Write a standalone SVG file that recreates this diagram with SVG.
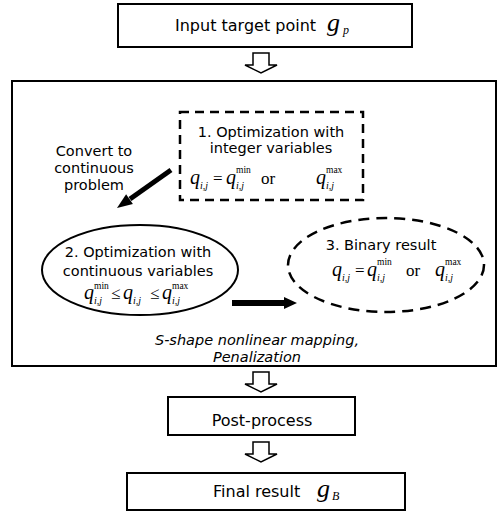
<svg xmlns="http://www.w3.org/2000/svg" width="499" height="520" viewBox="0 0 499 520">
<style>
.box{fill:#fff;stroke:#000;stroke-width:2}
.dash{fill:none;stroke:#000;stroke-width:2.5;stroke-dasharray:9,6}
.t{font-family:"DejaVu Sans",Verdana,sans-serif;font-size:16px;fill:#000}
.s{font-family:"DejaVu Sans",Verdana,sans-serif;font-size:14.5px;fill:#000;text-anchor:middle}
.it{font-family:"DejaVu Sans",Verdana,sans-serif;font-size:14.5px;font-style:italic;fill:#000;text-anchor:middle}
.q{font-family:"Liberation Serif","Times New Roman",serif;font-style:italic;font-size:20px;fill:#000}
.g{font-family:"Liberation Serif","Times New Roman",serif;font-style:italic;font-size:26px;fill:#000}
.sub{font-family:"Liberation Serif","Times New Roman",serif;font-style:italic;font-size:10px;fill:#000}
.sup{font-family:"Liberation Serif","Times New Roman",serif;font-size:9.5px;fill:#000}
.op{font-family:"Liberation Serif","Times New Roman",serif;font-size:17px;fill:#000}
.hollow{fill:#fff;stroke:#000;stroke-width:1.5}
</style>
<defs>
<path id="harrow" d="M-8,0 H8 V12 H16 L0,20 L-16,12 H-8 Z"/>
</defs>

<g id="input">
<rect class="box" x="118" y="4" width="294" height="43"/>
<text class="t" x="175" y="31">Input target point</text>
<text class="g" x="327" y="31">g</text>
<text class="sub" x="343" y="34" style="font-size:12px">p</text>
</g>

<g id="optimization-stage">
<rect class="box" x="12" y="81" width="484" height="285"/>
<text class="it" x="257" y="345">S-shape nonlinear mapping,</text>
<text class="it" x="257" y="362">Penalization</text>
</g>

<g id="step1">
<rect class="dash" x="180" y="112" width="183" height="88"/>
<text class="s" x="271" y="137">1. Optimization with</text>
<text class="s" x="271" y="153">integer variables</text>
<text class="q" x="190" y="184">q</text>
<text class="sub" x="200" y="189">i,j</text>
<text class="op" x="213" y="184">=</text>
<text class="q" x="226" y="184">q</text>
<text class="sup" x="236" y="173">min</text>
<text class="sub" x="236" y="189">i,j</text>
<text class="op" x="261" y="184">or</text>
<text class="q" x="316" y="184">q</text>
<text class="sup" x="326" y="173">max</text>
<text class="sub" x="326" y="189">i,j</text>
</g>

<g id="convert-label">
<text class="s" x="94" y="156">Convert to</text>
<text class="s" x="94" y="173">continuous</text>
<text class="s" x="94" y="190">problem</text>
</g>

<g id="step2">
<ellipse cx="140" cy="270" rx="98" ry="45" fill="none" stroke="#000" stroke-width="2"/>
<text class="s" x="138" y="257">2. Optimization with</text>
<text class="s" x="138" y="276">continuous variables</text>
<text class="q" x="84" y="299">q</text>
<text class="sup" x="94" y="289">min</text>
<text class="sub" x="94" y="304">i,j</text>
<text class="op" x="111" y="299">≤</text>
<text class="q" x="123" y="299">q</text>
<text class="sub" x="133" y="304">i,j</text>
<text class="op" x="150" y="299">≤</text>
<text class="q" x="162" y="299">q</text>
<text class="sup" x="172" y="289">max</text>
<text class="sub" x="172" y="304">i,j</text>
</g>

<g id="step3">
<ellipse class="dash" cx="386" cy="265" rx="98" ry="47" style="stroke-dasharray:11,7"/>
<text class="s" x="381" y="250">3. Binary result</text>
<text class="q" x="332" y="276">q</text>
<text class="sub" x="342" y="281">i,j</text>
<text class="op" x="355" y="276">=</text>
<text class="q" x="367" y="276">q</text>
<text class="sup" x="377" y="265">min</text>
<text class="sub" x="377" y="281">i,j</text>
<text class="op" x="406" y="276">or</text>
<text class="q" x="435" y="276">q</text>
<text class="sup" x="445" y="265">max</text>
<text class="sub" x="445" y="281">i,j</text>
</g>

<g id="postprocess">
<rect class="box" x="168" y="397" width="187" height="38"/>
<text class="t" x="262" y="426" text-anchor="middle">Post-process</text>
</g>

<g id="final">
<rect class="box" x="127" y="473" width="278" height="37"/>
<text class="t" x="213" y="497">Final result</text>
<text class="g" x="317" y="497">g</text>
<text class="sub" x="332" y="500" style="font-size:12px">B</text>
</g>

<g id="connectors">
<use href="#harrow" class="hollow" transform="translate(261,53)"/>
<use href="#harrow" class="hollow" transform="translate(261,372)"/>
<use href="#harrow" class="hollow" transform="translate(261,442)"/>
<line x1="171" y1="170" x2="130" y2="199" stroke="#000" stroke-width="5"/>
<polygon points="117,208 126.1,194.2 132.9,204" fill="#000"/>
<polygon points="232,300 284,300 284,297 297,303 284,309 284,306 232,306" fill="#000"/>
</g>
</svg>
